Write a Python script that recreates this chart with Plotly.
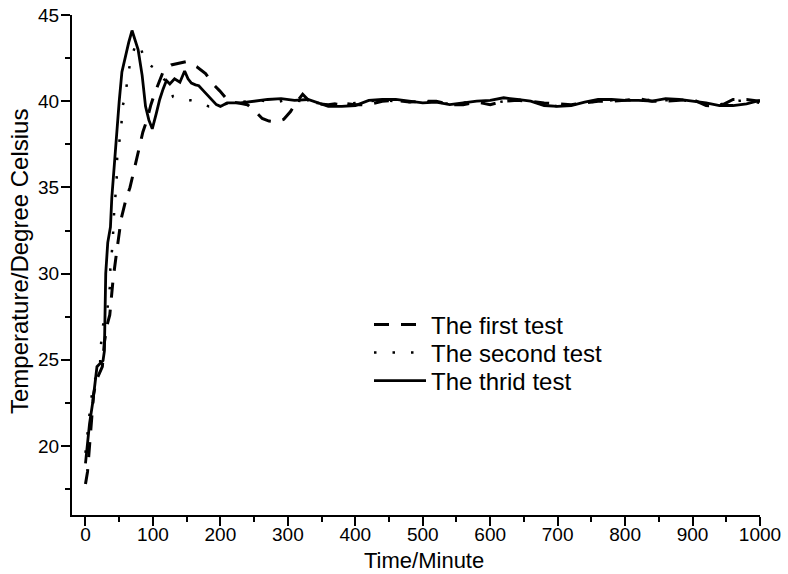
import plotly.graph_objects as go

# ---- data ----
t1_x = [0, 3, 8, 12, 16, 21, 25, 28, 32, 36, 41, 46, 53, 60, 66, 72, 78, 85, 91, 97, 103, 109, 115, 127, 140, 150, 165, 178, 189, 199, 212,
        225, 240, 252, 262, 272, 284, 294, 304, 312, 322, 332, 345, 360, 380, 400, 420, 440, 460, 480, 500, 520, 540, 560, 580, 600, 620,
        640, 660, 680, 700, 720, 740, 760, 780, 800, 820, 840, 860, 880, 900, 920, 940, 960, 980, 1000]
t1_y = [17.8, 18.5, 21.0, 23.0, 23.8, 24.2, 24.6, 26.0, 27.0, 27.6, 29.7, 31.2, 33.2, 34.3, 35.0, 36.0, 37.0, 38.2, 38.9, 39.8, 40.5, 41.1, 41.7, 42.1, 42.2, 42.3, 42.0, 41.6, 41.0, 40.6, 40.0,
        39.9, 39.8, 39.4, 39.0, 38.85, 38.8, 38.95, 39.4, 39.9, 40.4, 40.0, 39.85, 39.8, 39.9, 39.8, 39.8, 40.0, 40.05, 39.95, 40.0, 40.0, 39.8, 39.8, 39.95, 39.8, 40.0,
        40.05, 40.0, 39.9, 39.85, 39.8, 39.9, 40.0, 40.0, 40.05, 40.15, 40.0, 40.0, 40.05, 40.1, 39.75, 39.7, 40.1, 40.1, 40.0]

t2_x = [0, 4, 8, 13, 18, 21, 23, 26, 30, 33, 36, 37, 40, 43, 46, 47, 50, 53, 55, 59, 63, 68, 74, 80, 87, 95, 103, 111, 118, 124, 130,
        143, 156, 170, 183, 200, 220, 240, 260, 280, 300, 320, 340, 360, 380, 400, 420, 440, 460, 480, 500, 520, 540, 560, 580, 600,
        620, 640, 660, 680, 700, 720, 740, 760, 780, 800, 820, 840, 860, 880, 900, 920, 940, 960, 980, 1000]
t2_y = [19.6, 21.0, 22.6, 23.8, 24.1, 24.3, 25.9, 27.0, 27.6, 28.1, 29.2, 30.5, 31.6, 34.0, 35.1, 36.8, 37.6, 38.5, 39.7, 40.3, 41.5, 42.6, 43.2, 43.4, 42.4, 42.1, 41.9, 41.5, 41.2, 40.7, 40.25,
        40.1, 40.05, 39.9, 39.7, 39.8, 39.9, 40.0, 40.05, 39.9, 40.1, 40.0, 39.9, 39.9, 39.8, 39.9, 40.0, 40.05, 40.0, 39.95, 40.0, 39.9, 39.85, 39.9, 40.0, 39.85,
        40.0, 40.1, 40.0, 39.8, 39.7, 39.8, 39.9, 40.0, 40.05, 40.1, 40.0, 40.1, 40.05, 40.1, 39.95, 39.85, 39.8, 40.0, 40.05, 39.9]

t3_x = [0, 3, 6, 11, 15, 17, 22, 26, 28, 30, 33, 37, 39, 41, 43, 47, 50, 54, 59, 64, 69, 73, 78, 84, 89, 94, 99, 105, 110, 115, 120, 125,
        132, 140, 147, 152, 157, 163, 168, 175, 182, 188, 194, 200, 210, 230, 250, 270, 290, 310, 330, 345, 360, 380, 400, 420, 440, 460,
        480, 500, 520, 540, 560, 580, 600, 620, 640, 660, 680, 700, 720, 740, 760, 780, 800, 820, 840, 860, 880, 900, 920, 940, 960, 980, 1000]
t3_y = [19.0, 20.2, 21.3, 22.6, 23.8, 24.6, 24.8, 24.95, 25.5, 30.0, 31.8, 32.7, 34.4, 35.4, 36.8, 38.5, 40.0, 41.7, 42.6, 43.4, 44.1, 43.6, 43.0, 41.5, 39.7, 38.9, 38.4, 39.3, 40.1, 40.7, 41.2, 41.0,
        41.3, 41.1, 41.75, 41.3, 41.05, 40.95, 40.9, 40.6, 40.3, 40.1, 39.8, 39.7, 39.9, 39.9, 40.0, 40.1, 40.15, 40.05, 40.1, 39.9, 39.7, 39.7, 39.75, 40.05, 40.1, 40.1,
        40.0, 39.9, 39.95, 39.8, 39.9, 40.0, 40.05, 40.2, 40.1, 40.0, 39.75, 39.7, 39.75, 39.95, 40.1, 40.1, 40.05, 40.05, 40.0, 40.15, 40.1, 40.0, 39.9, 39.75, 39.75, 39.85, 40.05]

names = ["The first test", "The second test", "The thrid test"]
x_ticks = list(range(0, 1001, 100))
y_ticks = [20, 25, 30, 35, 40, 45]
x_title = "Time/Minute"
y_title = "Temperature/Degree Celsius"

FONT = "Liberation Sans, Arial, sans-serif"

fig = go.Figure()
fig.add_trace(go.Scatter(x=t1_x, y=t1_y, mode="lines", name=names[0], legend="legend",
                         line=dict(color="black", width=3, dash="15px,12px")))
fig.add_trace(go.Scatter(x=t2_x, y=t2_y, mode="lines", name=names[1], legend="legend2",
                         line=dict(color="black", width=2.5, dash="2.5px,16px")))
fig.add_trace(go.Scatter(x=t3_x, y=t3_y, mode="lines", name=names[2], legend="legend3",
                         line=dict(color="black", width=2.8)))

axis_common = dict(showline=True, linecolor="black", linewidth=2, ticks="outside",
                   ticklen=9, tickwidth=2, tickcolor="black", showgrid=False, zeroline=False,
                   tickfont=dict(family=FONT, size=19, color="black"), mirror=False,
                   automargin=False)

fig.update_xaxes(range=[-20, 1000], tickvals=x_ticks, ticklabelstandoff=-8,
                 minor=dict(dtick=50, tick0=0, ticks="outside", ticklen=5, tickwidth=2, tickcolor="black"),
                 **axis_common)
fig.update_yaxes(range=[16, 45], tickvals=y_ticks, ticklabelstandoff=-2,
                 minor=dict(dtick=2.5, tick0=0, ticks="outside", ticklen=5, tickwidth=2, tickcolor="black"),
                 **axis_common)

# axis titles as annotations placed like the reference
fig.add_annotation(text=x_title, xref="paper", yref="paper",
                   x=(424 - 72) / 688, y=-(560 - 515) / 500, xanchor="center", yanchor="middle",
                   showarrow=False, font=dict(family=FONT, size=22, color="black"))
fig.add_annotation(text=y_title, xref="paper", yref="paper", textangle=-90,
                   x=-(72 - 19) / 688, y=1 - (262 - 15) / 500, xanchor="center", yanchor="middle",
                   showarrow=False, font=dict(family=FONT, size=24, color="black"))

leg_common = dict(xanchor="left", yanchor="middle", itemwidth=52,
                  font=dict(family=FONT, size=24, color="black"),
                  bgcolor="rgba(0,0,0,0)", borderwidth=0)
lx = (369 - 72) / 688
fig.update_layout(
    width=788, height=574,
    margin=dict(l=72, r=28, t=15, b=59),
    paper_bgcolor="white", plot_bgcolor="white",
    showlegend=True,
    legend=dict(x=lx, y=0.38, **leg_common),
    legend2=dict(x=lx, y=0.324, **leg_common),
    legend3=dict(x=lx, y=0.268, **leg_common),
)

fig.write_html("out.html")
